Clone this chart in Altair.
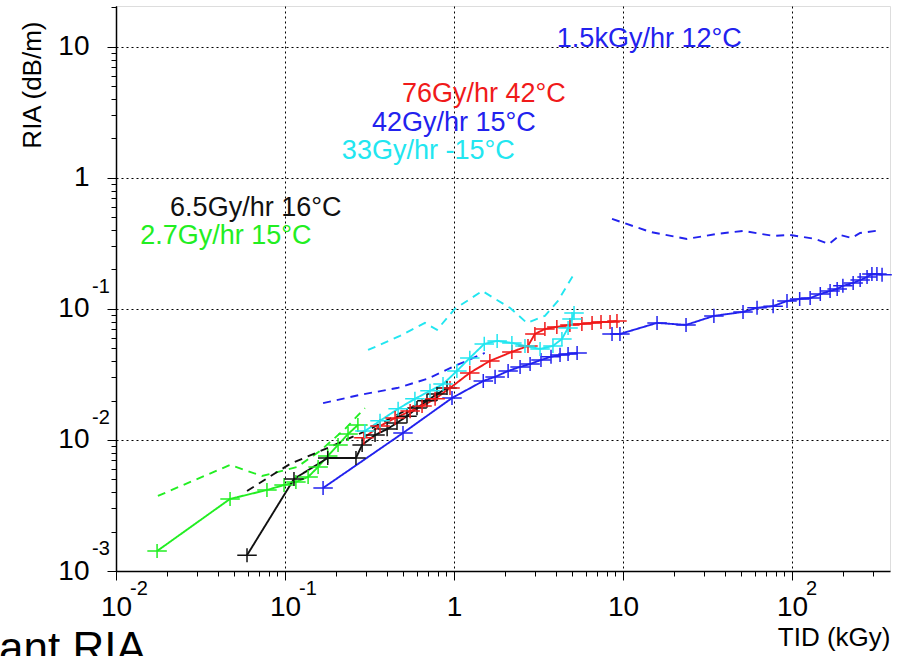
import altair as alt
import pandas as pd

# ---------------- data (TID in kGy, RIA in dB/m) ----------------
green_x = [0.0175, 0.0473, 0.0782, 0.0987, 0.116, 0.137, 0.157, 0.179, 0.206, 0.236, 0.270]
green_y = [0.00142, 0.00355, 0.00415, 0.00453, 0.00478, 0.00522, 0.00622, 0.00755, 0.00916, 0.0111, 0.0130]
green_dash_x = [0.0177, 0.0473, 0.0731, 0.118, 0.161, 0.226, 0.297]
green_dash_y = [0.00374, 0.00645, 0.00531, 0.00622, 0.00824, 0.0121, 0.0175]

black_x = [0.0596, 0.113, 0.179, 0.263, 0.286, 0.341, 0.402, 0.460, 0.527, 0.604, 0.692, 0.793, 0.909]
black_y = [0.00132, 0.00504, 0.00729, 0.00729, 0.00916, 0.0109, 0.0121, 0.0135, 0.0152, 0.0175, 0.0199, 0.0224, 0.0249]
black_dash_x = [0.0596, 0.107, 0.185, 0.318, 0.550, 0.826]
black_dash_y = [0.00408, 0.00656, 0.00885, 0.0121, 0.0175, 0.0229]

red_x = [0.293, 0.365, 0.448, 0.550, 0.647, 0.773, 0.947, 1.24, 1.63, 2.20, 2.74, 3.01, 3.45, 4.06, 4.85, 5.71, 6.56, 7.41, 8.38, 9.21]
red_y = [0.0104, 0.0128, 0.0147, 0.0166, 0.0182, 0.0206, 0.0249, 0.0325, 0.0401, 0.0470, 0.0522, 0.0644, 0.0703, 0.0729, 0.0755, 0.0768, 0.0782, 0.0796, 0.0796, 0.0810]

cyan_x = [0.297, 0.365, 0.467, 0.587, 0.721, 0.861, 1.04, 1.24, 1.51, 1.80, 2.20, 2.63, 3.23, 3.85, 4.35, 4.73, 4.99, 5.13]
cyan_y = [0.0117, 0.0140, 0.0173, 0.0206, 0.0237, 0.0267, 0.0336, 0.0423, 0.0541, 0.0570, 0.0550, 0.0522, 0.0495, 0.0522, 0.0590, 0.0716, 0.0839, 0.0931]
cyan_dash_x = [0.310, 0.479, 0.673, 0.793, 1.01, 1.47, 2.14, 2.70, 3.45, 4.12, 5.13]
cyan_dash_y = [0.0486, 0.0622, 0.0782, 0.0692, 0.100, 0.137, 0.102, 0.0782, 0.0885, 0.115, 0.185]

blue42_x = [0.168, 0.499, 0.973, 1.49, 1.75, 2.09, 2.46, 2.82, 3.27, 3.75, 4.24, 4.73, 5.35]
blue42_y = [0.00430, 0.0113, 0.0209, 0.0282, 0.0303, 0.0336, 0.0361, 0.0380, 0.0408, 0.0431, 0.0446, 0.0453, 0.0461]
blue42_dash_x = [0.168, 0.278, 0.460, 0.692, 1.01, 1.52]
blue42_dash_y = [0.0191, 0.0221, 0.0249, 0.0292, 0.0367, 0.0461]

blue15_x = [8.61, 9.59, 15.9, 23.6, 34.5, 51.3, 62.1, 77.3, 93.4, 111, 128, 147, 168, 185, 200, 230, 253, 278, 297, 318, 341]
blue15_y = [0.0644, 0.0644, 0.0782, 0.0755, 0.0885, 0.0948, 0.102, 0.105, 0.115, 0.119, 0.121, 0.130, 0.137, 0.142, 0.150, 0.158, 0.166, 0.175, 0.185, 0.185, 0.182]
blue15_dash_x = [8.61, 14.5, 23.9, 36.0, 51.3, 77.3, 97.3, 137, 166, 192, 226, 253, 314]
blue15_dash_y = [0.486, 0.387, 0.342, 0.374, 0.394, 0.361, 0.367, 0.342, 0.313, 0.367, 0.348, 0.380, 0.394]

# annotation labels
ann_text = ["1.5kGy/hr 12°C", "76Gy/hr 42°C", "42Gy/hr 15°C", "33Gy/hr -15°C", "6.5Gy/hr 16°C", "2.7Gy/hr 15°C"]
ann_x = [4.06, 0.492, 0.327, 0.217, 0.0209, 0.0139]
ann_y = [10.0, 3.80, 2.29, 1.40, 0.513, 0.313]

# tick values and superscript exponents
x_ticks = [0.01, 0.02, 0.03, 0.04, 0.05, 0.06, 0.07, 0.08, 0.09,
           0.1, 0.2, 0.3, 0.4, 0.5, 0.6, 0.7, 0.8, 0.9,
           1, 2, 3, 4, 5, 6, 7, 8, 9,
           10, 20, 30, 40, 50, 60, 70, 80, 90,
           100, 200, 300]
y_ticks = [0.001, 0.002, 0.003, 0.004, 0.005, 0.006, 0.007, 0.008, 0.009,
           0.01, 0.02, 0.03, 0.04, 0.05, 0.06, 0.07, 0.08, 0.09,
           0.1, 0.2, 0.3, 0.4, 0.5, 0.6, 0.7, 0.8, 0.9,
           1, 2, 3, 4, 5, 6, 7, 8, 9, 10, 20]
x_sup_vals = [0.01, 0.1, 100]
x_sup_text = ["-2", "-1", "2"]
y_sup_vals = [0.1, 0.01, 0.001]
y_sup_text = ["-1", "-2", "-3"]

# ---------------- styling ----------------
GREEN = "#22ee22"
BLACK = "#111111"
RED = "#f01a1a"
CYAN = "#22e6f0"
BLUE = "#2222ee"
FONT = "Liberation Sans"

series = [
    ("green", green_x, green_y, GREEN, "solid"),
    ("green_d", green_dash_x, green_dash_y, GREEN, "dashed"),
    ("black", black_x, black_y, BLACK, "solid"),
    ("black_d", black_dash_x, black_dash_y, BLACK, "dashed"),
    ("blue42", blue42_x, blue42_y, BLUE, "solid"),
    ("blue42_d", blue42_dash_x, blue42_dash_y, BLUE, "dashed"),
    ("blue15", blue15_x, blue15_y, BLUE, "solid"),
    ("blue15_d", blue15_dash_x, blue15_dash_y, BLUE, "dashed"),
    ("red", red_x, red_y, RED, "solid"),
    ("cyan", cyan_x, cyan_y, CYAN, "solid"),
    ("cyan_d", cyan_dash_x, cyan_dash_y, CYAN, "dashed"),
]
rows = []
for order, (name, xs, ys, col, dash) in enumerate(series):
    for i, (xv, yv) in enumerate(zip(xs, ys)):
        rows.append({"series": name, "x": xv, "y": yv, "color": col, "dash": dash, "i": i, "o": order})
df = pd.DataFrame(rows)

ann_colors = [BLUE, RED, BLUE, CYAN, BLACK, GREEN]
ann_df = pd.DataFrame({"t": ann_text, "x": ann_x, "y": ann_y, "c": ann_colors})
xsup_df = pd.DataFrame({"v": x_sup_vals, "t": x_sup_text})
ysup_df = pd.DataFrame({"v": y_sup_vals, "t": y_sup_text})

W, H = 774, 565
decade = "abs(log(datum.value)/LN10 - round(log(datum.value)/LN10)) < 0.001"
label_expr = f"({decade}) ? (abs(datum.value - 1) < 1e-9 ? '1' : '10') : ''"

xscale = alt.Scale(type="log", domain=[0.01, 380], nice=False)
yscale = alt.Scale(type="log", domain=[0.001, 20.5], nice=False)

common_axis = dict(
    grid=True,
    gridColor="black",
    gridDash=[2, 3],
    gridWidth=1,
    gridOpacity={"condition": {"test": decade, "value": 1}, "value": 0},
    tickSize={"condition": {"test": decade, "value": 9}, "value": 5},
    tickColor="black",
    tickWidth=1,
    domainColor="black",
    domainWidth=1.5,
    labelExpr=label_expr,
    labelFont=FONT,
    labelFontSize=28,
    labelColor="black",
    labelOverlap=False,
    labelFlush=False,
    titleFont=FONT,
    titleFontSize=26,
    titleFontWeight="normal",
    titleColor="black",
)
x_axis = alt.Axis(values=x_ticks, labelPadding=13, title="TID (kGy)",
                  titleX=W, titleY=66, titleAlign="right", titleBaseline="middle",
                  **common_axis)
y_axis = alt.Axis(values=y_ticks, labelPadding=18, title="RIA (dB/m)",
                  titleX=-84, titleY=15, titleAngle=-90, titleAlign="right",
                  titleBaseline="middle", **common_axis)

X = alt.X("x:Q", scale=xscale, axis=x_axis)
Y = alt.Y("y:Q", scale=yscale, axis=y_axis)

lines = alt.Chart(df).mark_line(strokeWidth=1.9).encode(
    x=X, y=Y,
    detail="series:N",
    order="i:Q",
    color=alt.Color("color:N", scale=None),
    strokeDash=alt.StrokeDash("dash:N", scale=alt.Scale(domain=["solid", "dashed"], range=[[1, 0], [8, 6]]), legend=None),
)

plus_path = "M-1,0H1M0,-0.72V0.72"
points = alt.Chart(df).transform_filter("datum.dash == 'solid'").mark_point(
    shape=plus_path, size=380, filled=False, strokeWidth=1.5, opacity=1
).encode(
    x=X, y=Y,
    color=alt.Color("color:N", scale=None),
)

ann = alt.Chart(ann_df).mark_text(font=FONT, fontSize=27, align="left", baseline="alphabetic").encode(
    x=X, y=Y, text="t:N", color=alt.Color("c:N", scale=None)
)

xsup = alt.Chart(xsup_df).mark_text(font=FONT, fontSize=20, align="left", baseline="middle", dx=14, dy=18, color="black").encode(
    x=alt.X("v:Q", scale=xscale, axis=x_axis), y=alt.value(H), text="t:N"
)
ysup = alt.Chart(ysup_df).mark_text(font=FONT, fontSize=20, align="left", baseline="middle", dx=-24, dy=-22, color="black").encode(
    y=alt.Y("v:Q", scale=yscale, axis=y_axis), x=alt.value(0), text="t:N"
)

slide = alt.Chart(pd.DataFrame({"t": ["ant RIA"]})).mark_text(
    font=FONT, fontSize=44, align="left", baseline="alphabetic", color="black"
).encode(text="t:N", x=alt.value(-117), y=alt.value(657))

chart = alt.layer(lines, points, ann, xsup, ysup, slide).properties(
    width=W, height=H,
    autosize=alt.AutoSizeParams(type="none"),
    padding={"left": 116, "top": 6, "right": 8, "bottom": 85},
).configure_view(stroke="black", strokeWidth=1).configure(background="white")

chart.save("out.html", embed_options={"renderer": "svg", "actions": False})
